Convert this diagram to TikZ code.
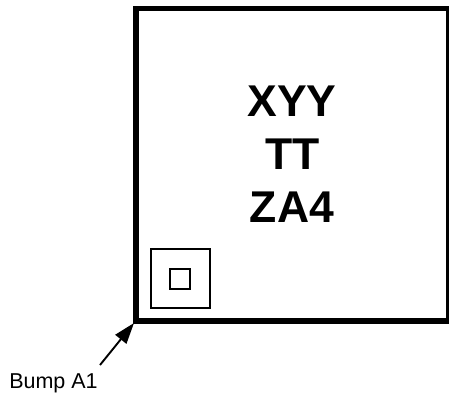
\documentclass[tikz,border=0pt]{standalone}
\usepackage{fontspec}
\setmainfont{Liberation Sans}
\usetikzlibrary{arrows.meta}
\begin{document}
\begin{tikzpicture}[x=1pt,y=-1pt,
 marktext/.style={font=\bfseries\fontsize{44.5}{44.5}\selectfont,anchor=base,inner sep=0pt},
 thinbox/.style={draw=black,line width=2pt,fill=none}]
\useasboundingbox (0,0) rectangle (449,397);
\begin{scope}
\clip (0,0) rectangle (449,397);
\draw[line width=5.8pt] (136.2,8.5) rectangle (448.5,321);
\end{scope}
\draw[thinbox] (150.5,249.3) rectangle (209.5,308.3);
\draw[thinbox] (170,269) rectangle (190,289);
\node[marktext] (a) at (292,116) {XYY};
\node[marktext] (b) at (292.5,169) {TT};
\node[marktext] (c) at (292,222) {ZA4};
\node[anchor=base,inner sep=0pt,font=\fontsize{21.5}{24}\selectfont] (lab) at (53.5,388) {Bump A1};
\coordinate (tip) at (134,323);
\coordinate (tail) at (100,365);
\draw[line width=1.9pt,-{Stealth[length=21pt,width=14pt,inset=0pt]}] (tail) -- (tip);
\end{tikzpicture}
\end{document}
